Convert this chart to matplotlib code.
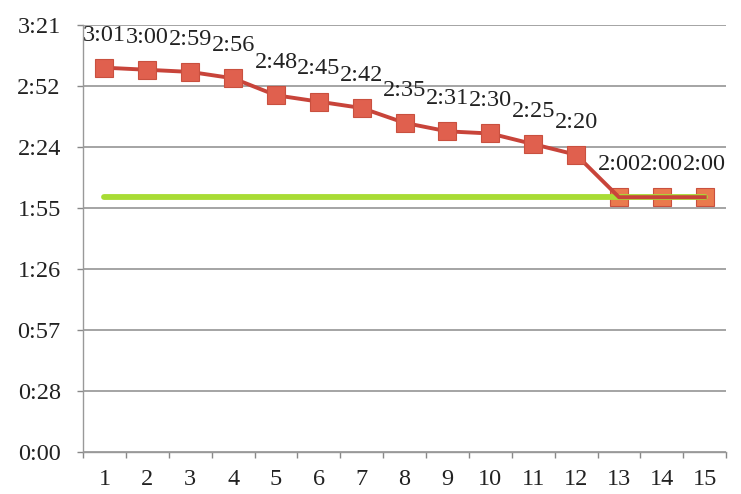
import matplotlib
matplotlib.use("Agg")
import matplotlib.pyplot as plt
from matplotlib.ticker import FixedLocator

categories = [str(i) for i in range(1, 16)]
times_sec = [181, 180, 179, 176, 168, 165, 162, 155, 151, 150, 145, 140, 120, 120, 120]
target_sec = [120] * 15
ytick_vals = [0, 28.714, 57.429, 86.143, 114.857, 143.571, 172.286, 201]
ytick_labels = ["0:00", "0:28", "0:57", "1:26", "1:55", "2:24", "2:52", "3:21"]

def fmt(s):
    return f"{s // 60}:{s % 60:02d}"

plt.rcParams['font.family'] = ['Liberation Serif', 'DejaVu Serif']

fig = plt.figure(figsize=(7.41, 4.94), dpi=100)
ax = fig.add_axes([0.112, 0.085, 0.868, 0.864])

x = list(range(len(categories)))

ax.plot(x, target_sec, color='#a8dc34', lw=4.2, solid_capstyle='round', zorder=3)
ax.plot(x, times_sec, color='#c8443a', lw=2.8, zorder=4)
colors = ['#e0604e'] * 12 + ['#ea7a4e'] * 3
for xi, yi, c in zip(x, times_sec, colors):
    ax.plot([xi], [yi], marker='s', ms=13.5, mfc=c, mec='#c9503f', mew=0.8, zorder=5 if xi < 12 else 2)

for xi, yi in zip(x, times_sec):
    ax.annotate(fmt(yi), (xi, yi), xytext=(0, 23.5), textcoords='offset points',
                ha='center', va='center', fontsize=17.5, color='#222222', zorder=6)

ax.set_xlim(-0.5, len(categories) - 0.5)
ax.set_ylim(0, 201)
ax.set_yticks(ytick_vals)
ax.set_yticklabels(ytick_labels)
ax.set_xticks(x)
ax.set_xticklabels(categories)
ax.xaxis.set_minor_locator(FixedLocator([i - 0.5 for i in range(len(categories) + 1)]))

ax.tick_params(axis='x', which='major', length=0, pad=12.5, labelsize=17.5, colors='#222222')
ax.tick_params(axis='x', which='minor', length=4.5, width=1, color='#888888', direction='out')
ax.tick_params(axis='y', length=4.5, width=1, color='#888888', pad=11.5, labelsize=17.5, labelcolor='#222222')

ax.grid(axis='y', color='#8c8c8c', lw=1.1)
ax.set_axisbelow(True)
for s in ['top', 'right']:
    ax.spines[s].set_visible(False)
for s in ['left', 'bottom']:
    ax.spines[s].set_color('#999999')
    ax.spines[s].set_linewidth(1)

fig.savefig('out.png', dpi=100, facecolor='white')
